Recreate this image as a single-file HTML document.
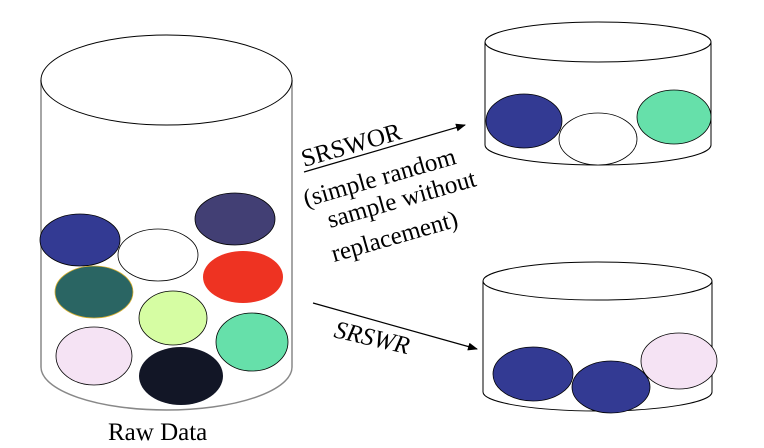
<!DOCTYPE html>
<html><head><style>body{margin:0;background:#fff}svg{display:block}text{font-family:"Liberation Serif","Times New Roman",Times,"DejaVu Serif",serif}</style></head><body>
<svg width="764" height="448" viewBox="0 0 764 448" xmlns="http://www.w3.org/2000/svg">
<defs><marker id="ah" markerWidth="10" markerHeight="8" refX="9" refY="4" orient="auto" markerUnits="userSpaceOnUse"><path d="M0,0 L10,4 L0,8 z" fill="#000"/></marker></defs>
<g fill="#fff" stroke="#000" stroke-width="1">
<path d="M41,80 L41,367 A125.5,43 0 0 0 292,367 L292,80" stroke="#888" stroke-width="1.5"/>
<ellipse cx="166.5" cy="80" rx="125.5" ry="45"/>
<path d="M485,42 L485,145 A113,20 0 0 0 711,145 L711,42"/>
<ellipse cx="598" cy="42" rx="113" ry="20"/>
<path d="M483,281 L483,392 A114.5,19 0 0 0 712,392 L712,281"/>
<ellipse cx="597.5" cy="281" rx="114.5" ry="19"/>
</g>
<g stroke="#000" stroke-width="0.8">
<ellipse cx="80" cy="240" rx="40" ry="26" fill="#333a93"/>
<ellipse cx="158" cy="255" rx="40" ry="26" fill="#fff"/>
<ellipse cx="235" cy="219" rx="40" ry="26" fill="#423f74"/>
<ellipse cx="94" cy="292" rx="39" ry="26" fill="#2a6563" stroke="#d8b030"/>
<ellipse cx="243" cy="277" rx="40" ry="26" fill="#ee3322" stroke="none"/>
<ellipse cx="173" cy="318" rx="34" ry="27" fill="#d6fda3"/>
<ellipse cx="252" cy="342" rx="36" ry="29" fill="#66e0aa"/>
<ellipse cx="94" cy="356" rx="38" ry="29" fill="#f5e3f4"/>
<ellipse cx="181" cy="376" rx="42" ry="29" fill="#121626" stroke="none"/>
<ellipse cx="524" cy="121" rx="38" ry="27" fill="#333a93"/>
<ellipse cx="598" cy="139" rx="39" ry="26" fill="#fff"/>
<ellipse cx="674" cy="117" rx="37" ry="27" fill="#66e0aa"/>
<ellipse cx="533" cy="374" rx="40" ry="27" fill="#333a93"/>
<ellipse cx="611" cy="387" rx="39" ry="26" fill="#333a93"/>
<ellipse cx="679" cy="361" rx="38" ry="28" fill="#f5e3f4"/>
</g>
<line x1="304" y1="172" x2="465" y2="125" stroke="#000" stroke-width="1.2" marker-end="url(#ah)"/>
<line x1="313" y1="303" x2="477" y2="349" stroke="#000" stroke-width="1.2" marker-end="url(#ah)"/>
<g font-size="25" fill="#000">
<text transform="translate(304,167) rotate(-16)">SRSWOR</text>
<text transform="translate(306,207) rotate(-16)">(simple random</text>
<text transform="translate(330,228) rotate(-16)">sample without</text>
<text transform="translate(334,262) rotate(-16)">replacement)</text>
<text transform="translate(333,337) rotate(13)" font-style="italic">SRSWR</text>
<text x="108" y="440">Raw Data</text>
</g>
</svg>
</body></html>
